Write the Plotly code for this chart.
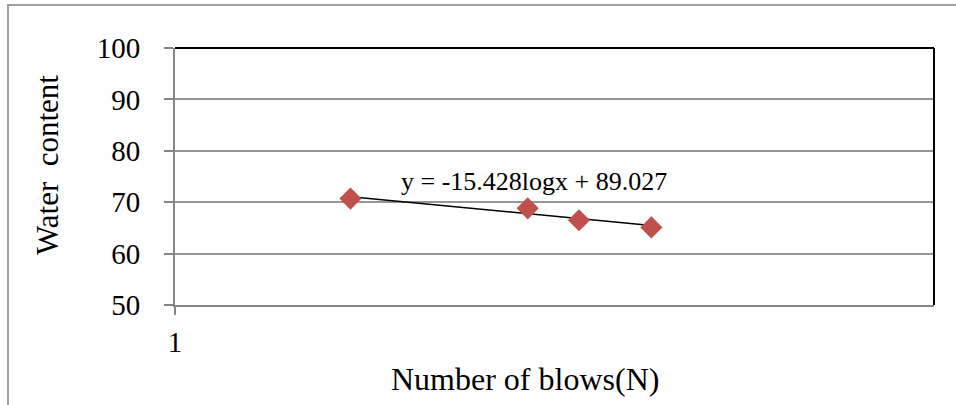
import numpy as np
import plotly.graph_objects as go

# Data
blows = [2.9, 8.5, 11.6, 18.0]
water_content = [70.7, 68.8, 66.5, 65.1]
equation_text = "y = -15.428logx + 89.027"
x_title = "Number of blows(N)"
y_title = "Water  content"
y_ticks = [50, 60, 70, 80, 90, 100]
x_ticks = [1]

W, H = 956, 405
L, R, T, B = 175, 22, 48, 100
pw, ph = W - L - R, H - T - B

def px_x(p):
    return (p - L) / pw

def px_y(p):
    return (H - B - p) / ph

# log trendline fitted to the data
lx = np.log10(blows)
b1, b0 = np.polyfit(lx, water_content, 1)
tx = [min(blows), max(blows)]
ty = [b0 + b1 * np.log10(v) for v in tx]

FONT = "Liberation Serif"

fig = go.Figure()
fig.add_trace(go.Scatter(x=tx, y=ty, mode="lines",
                         line=dict(color="black", width=1.5),
                         showlegend=False, hoverinfo="skip"))
fig.add_trace(go.Scatter(x=blows, y=water_content, mode="markers",
                         marker=dict(symbol="diamond", size=17, color="#C0504D",
                                     line=dict(width=0)),
                         showlegend=False))

fig.update_layout(
    width=W, height=H,
    margin=dict(l=L, r=R, t=T, b=B, pad=0),
    paper_bgcolor="white", plot_bgcolor="white",
    font=dict(family=FONT, color="black"),
    xaxis=dict(type="log", range=[0, 2], tickvals=x_ticks, ticktext=[str(v) for v in x_ticks],
               showgrid=False, zeroline=False, showline=True, linecolor="#868686", linewidth=2,
               ticks="outside", ticklen=8, tickcolor="#868686", tickwidth=2,
               tickfont=dict(size=29, family=FONT, color="black"), ticklabelstandoff=2),
    yaxis=dict(range=[50, 100], tickvals=y_ticks, showgrid=True, gridcolor="#969696", gridwidth=2,
               zeroline=False, showline=True, linecolor="#868686", linewidth=2,
               ticks="outside", ticklen=9, tickcolor="#868686", tickwidth=2,
               tickfont=dict(size=29, family=FONT, color="black"), ticklabelstandoff=18),
    shapes=[
        # top and right plot-area border
        dict(type="line", xref="paper", yref="paper", x0=0, x1=1, y0=1, y1=1,
             line=dict(color="black", width=2)),
        dict(type="line", xref="paper", yref="paper", x0=1, x1=1, y0=0, y1=1,
             line=dict(color="black", width=2)),
        # outer chart border
        dict(type="rect", xref="paper", yref="paper",
             x0=px_x(8), x1=px_x(W + 20), y0=px_y(H + 20), y1=px_y(5),
             line=dict(color="#A0A0A0", width=2), layer="below"),
    ],
    annotations=[
        dict(text=equation_text, xref="paper", yref="paper", x=px_x(534), y=px_y(182),
             showarrow=False, font=dict(size=26, family=FONT), xanchor="center", yanchor="middle"),
        dict(text=x_title, xref="paper", yref="paper", x=px_x(525), y=px_y(379),
             showarrow=False, font=dict(size=32, family=FONT), xanchor="center", yanchor="middle"),
        dict(text=y_title, xref="paper", yref="paper", x=px_x(47), y=px_y(165),
             showarrow=False, font=dict(size=31, family=FONT), textangle=-90,
             xanchor="center", yanchor="middle"),
    ],
)

fig.write_html("out.html")
